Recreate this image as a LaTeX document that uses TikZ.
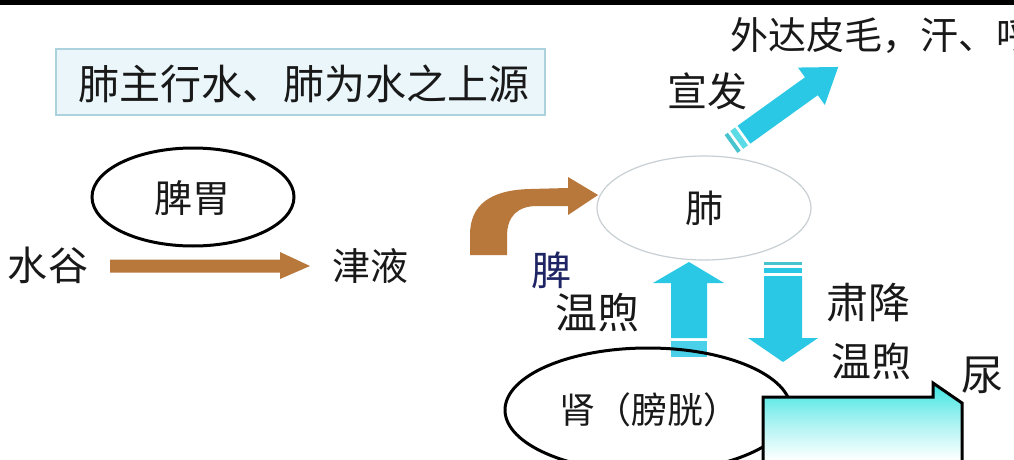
\documentclass[tikz,border=0pt]{standalone}
\usepackage{fontspec}
\setmainfont{Noto Sans CJK SC}
\usetikzlibrary{calc}
\definecolor{ink}{RGB}{25,25,25}
\definecolor{navy}{RGB}{30,36,100}
\definecolor{cyanA}{RGB}{42,200,228}
\definecolor{cyanB}{RGB}{70,195,205}
\definecolor{cyanC}{RGB}{95,225,235}
\definecolor{brownA}{RGB}{184,120,60}
\definecolor{boxfill}{RGB}{234,246,250}
\definecolor{boxline}{RGB}{172,210,222}
\definecolor{lungline}{RGB}{200,207,211}
\definecolor{bigtop}{RGB}{60,228,225}
\newcommand\myfs[1]{\fontsize{#1pt}{#1pt}\selectfont}
\begin{document}
\begin{tikzpicture}[x=1pt,y=-1pt,
  txt/.style={inner sep=0pt, text=ink},
  brownfill/.style={fill=brownA},
  cyanfill/.style={fill=cyanA}]
\clip (0,0) rectangle (1014,460);
\fill[white] (0,0) rectangle (1014,460);
\fill[black] (0,0) rectangle (1014,5);

% title box
\node[draw=boxline, fill=boxfill, line width=1.5pt, minimum width=489pt, minimum height=66pt, inner sep=0pt] (title) at (300.5,82) {};
\node[txt, font=\myfs{41}] (titletext) at (304,84) {肺主行水、肺为水之上源};

% spleen-stomach
\draw[black, line width=3pt, fill=white] (193,197) ellipse [x radius=101, y radius=49];
\node[txt, font=\myfs{38}] (piwei) at (192,198) {脾胃};
\node[txt, font=\myfs{40}] (shuigu) at (48,265) {水谷};
\node[txt, font=\myfs{38}] (jinye) at (370,266) {津液};

% straight brown arrow
\fill[brownfill] (110,259.5) -- (280,259.5) -- (280,252) -- (310,266) -- (280,279) -- (280,272.5) -- (110,272.5) -- cycle;

% curved brown arrow
\fill[brownfill] (470,255) -- (470,235) .. controls (470,205) and (490,190) .. (530,189)
  -- (568,188) -- (568,177) -- (598,195) -- (568,215) -- (568,206) -- (537,206)
  .. controls (518,206) and (507,216) .. (507,236) -- (507,255) -- cycle;

% lung
\draw[lungline, line width=1.2pt, fill=white] (704,208) ellipse [x radius=107, y radius=52];
\node[txt, font=\myfs{38}] (fei) at (704,208) {肺};

% diagonal cyan arrow
\begin{scope}[shift={(731,144)}, rotate=35.7]
  \fill[cyanB] (0,-11) rectangle (4,11);
  \fill[cyanC!80!cyanB] (7,-11) rectangle (13,11);
  \fill[cyanfill] (16,-11) -- (99,-11) -- (99,-23) -- (132,0) -- (99,23) -- (99,11) -- (16,11) -- cycle;
\end{scope}
\node[txt, font=\myfs{38}, anchor=west] (waida) at (730,36) {外达皮毛，汗、呼};
\node[txt, font=\myfs{40}] (xuanfa) at (707,91) {宣发};

% up arrow
\fill[cyanfill] (671,338) -- (671,283) -- (653,283) -- (689,262) -- (724,283) -- (707,283) -- (707,338) -- cycle;
\fill[cyanA!85!white] (671,341) rectangle (707,357);

% down arrow
\fill[cyanB] (764,262) rectangle (802,265);
\fill[cyanA] (764,268) rectangle (802,273);
\fill[cyanfill] (764,276) -- (802,276) -- (802,338) -- (818,338) -- (783,362) -- (748,338) -- (764,338) -- cycle;

\node[txt, text=navy, font=\myfs{40}] (pi) at (551,270) {脾};
\node[txt, font=\myfs{42}] (wenxuL) at (597,313) {温煦};
\node[txt, font=\myfs{42}] (sujiang) at (868,303) {肃降};
\node[txt, font=\myfs{40}] (wenxuR) at (871,361) {温煦};
\node[txt, font=\myfs{42}, anchor=west] (niao) at (961,375) {尿};

% kidney
\draw[black, line width=3pt] (648,410) ellipse [x radius=143, y radius=62];
\node[txt, font=\myfs{36}, anchor=west] (shen) at (559,410) {肾（膀胱）};

% big bottom arrow
\shade[top color=bigtop, bottom color=white, middle color=bigtop!45!white]
  (763,460) -- (763,397) -- (933,397) -- (933,383) -- (962,403) -- (962,460) -- cycle;
\draw[black, line width=3pt, line join=miter]
  (763,460) -- (763,397) -- (933,397) -- (933,383) -- (962,403) -- (962,460);
\end{tikzpicture}
\end{document}
